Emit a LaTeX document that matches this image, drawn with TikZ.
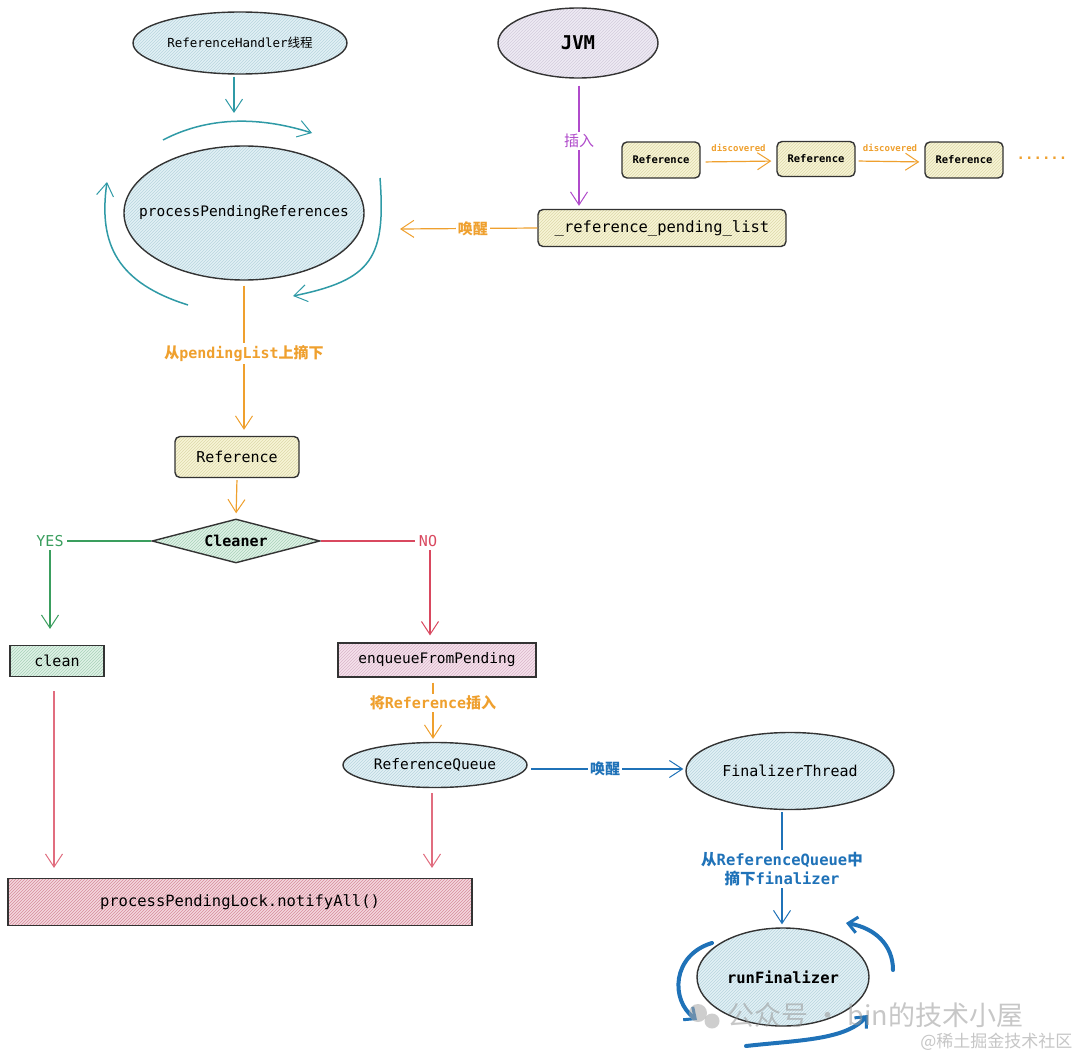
\documentclass[tikz,border=0pt]{standalone}
\usepackage{fontspec}
\setmainfont{DejaVu Sans Mono}
\newfontfamily\cjk{Noto Sans CJK SC}
\usetikzlibrary{shapes.geometric,arrows.meta,patterns}
\newcommand{\zh}[1]{{\cjk #1}}
\definecolor{cTeal}{HTML}{2F9AA6}
\definecolor{cOrange}{HTML}{EFA02E}
\definecolor{cPurple}{HTML}{B04BCB}
\definecolor{cGreen}{HTML}{3A9E5E}
\definecolor{cRed}{HTML}{D9485F}
\definecolor{cBlue}{HTML}{1F72B8}
\definecolor{fBlue}{HTML}{E2F1F5}
\definecolor{hBlue}{HTML}{B8D5DE}
\definecolor{fLav}{HTML}{EFEBF4}
\definecolor{hLav}{HTML}{D3CCDC}
\definecolor{fYel}{HTML}{F8F5D6}
\definecolor{hYel}{HTML}{DDD8AA}
\definecolor{fGrn}{HTML}{E0F2E7}
\definecolor{hGrn}{HTML}{A8D2B8}
\definecolor{fPnk}{HTML}{F6E2EC}
\definecolor{hPnk}{HTML}{D9B6C9}
\definecolor{fRed}{HTML}{F4D8DE}
\definecolor{hRed}{HTML}{D68C9C}
\tikzset{
  hatch/.style 2 args={preaction={fill=#1},pattern=north east lines,pattern color=#2},
  ell/.style={ellipse,draw=black!80,line width=1.4pt,inner sep=0pt},
  rbox/.style={rectangle,rounded corners=5pt,draw=black!80,line width=1.4pt,inner sep=0pt},
  sbox/.style={rectangle,draw=black!80,line width=1.2pt,inner sep=0pt},
  fs/.style={font=\fontsize{#1}{#1}\selectfont},
  arr/.style={-{Straight Barb[length=13pt,width=17pt,line width=1pt]}},
  conn/.style={line width=1.2pt},
  lbl/.style={fill=white,inner sep=2pt,font=\bfseries\fontsize{15}{15}\selectfont},
  loopT/.style={cTeal,line width=1.5pt,arr},
  loopB/.style={cBlue,line width=4pt,line cap=round,-{Straight Barb[length=9pt,width=16pt,line width=3pt]}},
}
\begin{document}
\begin{tikzpicture}[x=1pt,y=-1pt]
\useasboundingbox (0,0) rectangle (1080,1057);
\fill[white] (0,0) rectangle (1080,1057);

% ---- ellipses (shape) and their texts
\node[ell,hatch={fBlue}{hBlue},minimum width=214,minimum height=62] (rh) at (240,43) {};
\node[fs=12.5] (rhT) at (rh.center) {ReferenceHandler\zh{线程}};
\node[ell,hatch={fBlue}{hBlue},minimum width=240,minimum height=134] (ppr) at (244,213) {};
\node[fs=14.5] (pprT) at (ppr.center) {processPendingReferences};
\node[ell,hatch={fLav}{hLav},minimum width=160,minimum height=70] (jvm) at (578,43) {};
\node[font=\bfseries\fontsize{19}{19}\selectfont] (jvmT) at (jvm.center) {JVM};
\node[ell,hatch={fBlue}{hBlue},minimum width=184,minimum height=45] (rq) at (435,765) {};
\node[fs=14.5] (rqT) at (rq.center) {ReferenceQueue};
\node[ell,hatch={fBlue}{hBlue},minimum width=208,minimum height=77] (ft) at (790,771) {};
\node[fs=15] (ftT) at (ft.center) {FinalizerThread};
\node[ell,hatch={fBlue}{hBlue},minimum width=172,minimum height=98] (rf) at (783,977) {};
\node[font=\bfseries\fontsize{15.5}{15.5}\selectfont] (rfT) at (rf.center) {runFinalizer};

% ---- boxes
\node[rbox,hatch={fYel}{hYel},minimum width=78,minimum height=36,font=\bfseries\fontsize{10.5}{10.5}\selectfont] (r1) at (661,160) {Reference};
\node[rbox,hatch={fYel}{hYel},minimum width=78,minimum height=35,font=\bfseries\fontsize{10.5}{10.5}\selectfont] (r2) at (816,159) {Reference};
\node[rbox,hatch={fYel}{hYel},minimum width=78,minimum height=36,font=\bfseries\fontsize{10.5}{10.5}\selectfont] (r3) at (964,160) {Reference};
\node[text=cOrange,font=\bfseries\fontsize{14}{14}\selectfont] (dots) at (1042,158) {......};
\node[rbox,hatch={fYel}{hYel},minimum width=248,minimum height=37,fs=15.5] (rpl) at (662,228) {\_reference\_pending\_list};
\node[rbox,hatch={fYel}{hYel},minimum width=124,minimum height=41,fs=15] (ref) at (237,457) {Reference};
\node[diamond,aspect=3.8,draw=black!80,line width=1.4pt,inner sep=0pt,hatch={fGrn}{hGrn},minimum width=168,minimum height=44,font=\bfseries\fontsize{15}{15}\selectfont] (cl) at (236,541) {Cleaner};
\node[sbox,hatch={fGrn}{hGrn},minimum width=94,minimum height=31,fs=15] (clean) at (57,661) {clean};
\node[sbox,hatch={fPnk}{hPnk},minimum width=198,minimum height=34,fs=14.5] (enq) at (437,660) {enqueueFromPending};
\node[sbox,hatch={fRed}{hRed},minimum width=464,minimum height=47,fs=15.5] (lock) at (240,902) {processPendingLock.notifyAll()};

% ---- ReferenceHandler -> loop
\coordinate (rhEnd) at (234,113);
\draw[cTeal,conn,arr,shorten <=2pt] (rh.south -| rhEnd) -- (rhEnd);
\draw[loopT] (163,140) .. controls (205,118) and (255,115) .. (312,133);
\draw[loopT] (380,178) .. controls (386,258) and (372,280) .. (293,296);
\draw[loopT] (188,305) .. controls (118,283) and (98,245) .. (107,182);

% ---- JVM -> pending list
\draw[cPurple,conn,arr,shorten <=7pt,shorten >=3pt] ([xshift=1pt]jvm.south) -- ([xshift=1pt]rpl.north -| jvm.south)
  node[pos=0.48,fill=white,inner sep=2pt,text=cPurple,font=\cjk\fontsize{15}{15}\selectfont] {插入};

% ---- discovered chain
\draw[cOrange,conn,arr,shorten <=5pt,shorten >=5pt] ([yshift=-2pt]r1.east) -- ([yshift=-2pt]r2.west)
  node[midway,above=6pt,font=\bfseries\fontsize{9}{9}\selectfont,text=cOrange] {discovered};
\draw[cOrange,conn,arr,shorten <=3pt,shorten >=5pt] ([yshift=-2pt]r2.east) -- ([yshift=-2pt]r3.west)
  node[midway,above=6pt,font=\bfseries\fontsize{9}{9}\selectfont,text=cOrange] {discovered};

% ---- wake processPendingReferences
\coordinate (wakeEnd) at (400,229);
\draw[cOrange,conn,arr] (rpl.west) -- (wakeEnd)
  node[pos=0.47,lbl,text=cOrange,font=\cjk\bfseries\fontsize{15}{15}\selectfont] {唤醒};

% ---- ppr -> Reference
\draw[cOrange,conn,arr,shorten <=5pt,shorten >=6pt] (ppr.south) -- (ppr.south |- ref.north)
  node[pos=0.47,lbl,text=cOrange] {\zh{从}pendingList\zh{上摘下}};
\draw[cOrange,conn,arr,shorten <=2pt,shorten >=5pt] (ref.south) -- (cl.north);

% ---- YES / NO
\node[text=cGreen,fs=15] (yes) at (50,541) {YES};
\node[text=cRed,fs=15] (no) at (428,541) {NO};
\draw[cGreen,conn] (cl.west) -- (yes.east);
\draw[cGreen,conn,arr,shorten >=16pt] (yes.south) -- (yes.south |- clean.north);
\draw[cRed,conn] (cl.east) -- (no.west);
\draw[cRed,conn,arr,shorten >=7pt] ([xshift=2pt]no.south) -- ([xshift=2pt]no.south |- enq.north);

% ---- enqueue -> ReferenceQueue
\draw[cOrange,conn,arr,shorten <=5pt,shorten >=3pt] ([xshift=-4pt]enq.south) -- ([xshift=-4pt]enq.south |- rq.north)
  node[pos=0.4,lbl,text=cOrange] {\zh{将}Reference\zh{插入}};

% ---- to notifyAll
\draw[cRed!80,conn,arr,shorten <=14pt,shorten >=10pt] ([xshift=-3pt]clean.south) -- ([xshift=-3pt]clean.south |- lock.north);
\draw[cRed!80,conn,arr,shorten <=5pt,shorten >=10pt] ([xshift=-3pt]rq.south) -- ([xshift=-3pt]rq.south |- lock.north);

% ---- ReferenceQueue -> FinalizerThread
\coordinate (rqOut) at (531,769);
\draw[cBlue,conn,arr,shorten >=2pt] (rqOut) -- (rqOut -| ft.west)
  node[pos=0.48,fill=white,inner sep=2pt,text=cBlue,font=\cjk\bfseries\fontsize{15}{15}\selectfont] {唤醒};

% ---- FinalizerThread -> runFinalizer
\draw[cBlue,conn,arr,shorten <=2pt,shorten >=3pt] ([xshift=-8pt]ft.south) -- ([xshift=-8pt]ft.south |- rf.north)
  node[pos=0.5,fill=white,inner sep=2pt,text=cBlue,align=center,font=\bfseries\fontsize{15.5}{19}\selectfont]
  {\zh{从}ReferenceQueue\zh{中}\\\zh{摘下}finalizer};

% ---- runFinalizer loop
\draw[loopB] (712,943) .. controls (672,955) and (670,1000) .. (697,1020);
\draw[loopB] (746,1046) .. controls (800,1040) and (845,1040) .. (868,1015);
\draw[loopB] (893,970) .. controls (893,945) and (875,928) .. (846,923);

% ---- watermark
\begin{scope}[opacity=0.55]
\fill[gray!70] (698,1013) circle (9);
\fill[gray!70] (712,1021) circle (7.5);
\node[text=gray!80,font=\cjk\fontsize{27}{27}\selectfont,anchor=west] (wm) at (724,1015) {公众号 · bin的技术小屋};
\end{scope}
\node[text=gray!45,font=\cjk\fontsize{17}{17}\selectfont,anchor=east] (wm2) at (1076,1042) {@稀土掘金技术社区};
\end{tikzpicture}
\end{document}
